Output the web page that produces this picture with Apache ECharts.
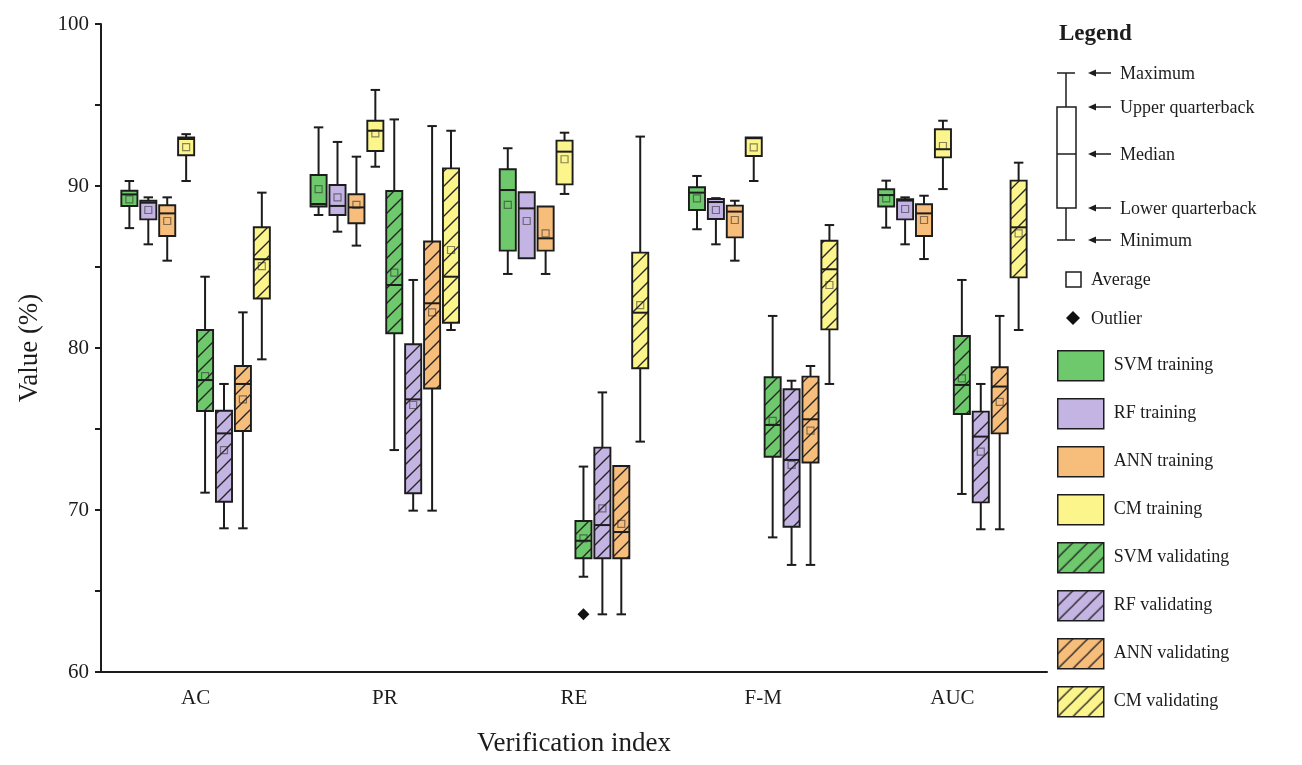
<!DOCTYPE html>
<html><head><meta charset="utf-8">
<script src="https://cdn.jsdelivr.net/npm/echarts@6/dist/echarts.min.js"></script>
<style>html,body{margin:0;padding:0;background:#fff}#c{width:1302px;height:765px}</style>
</head><body><div id="c"></div>
<script>
// ---- data (each row: [min, q1, median, q3, max, mean]) ----
const categories = ['AC', 'PR', 'RE', 'F-M', 'AUC'];
const seriesNames = ['SVM training','RF training','ANN training','CM training','SVM validating','RF validating','ANN validating','CM validating'];
const svmTraining = [[87.40,88.77,89.48,89.71,90.31,89.18],[88.21,88.73,88.89,90.68,93.62,89.81],[84.57,86.01,89.75,91.03,92.33,88.83],[87.33,88.52,89.59,89.92,90.62,89.24],[87.43,88.73,89.44,89.80,90.33,89.24]];
const rfTraining = [[86.40,87.94,88.97,89.09,89.30,88.52],[87.18,88.21,88.77,90.06,92.72,89.30],[85.54,85.54,88.62,89.61,89.61,87.84],[86.40,87.96,89.01,89.20,89.25,88.52],[86.40,87.94,89.10,89.18,89.30,88.58]];
const annTraining = [[85.39,86.91,88.31,88.81,89.30,87.84],[86.32,87.70,88.68,89.49,91.81,88.83],[84.57,86.01,86.77,88.73,88.73,87.08],[85.39,86.83,88.42,88.79,89.09,87.90],[85.49,86.91,88.31,88.87,89.40,87.90]];
const cmTraining = [[90.31,91.90,92.90,93.00,93.20,92.40],[91.19,92.16,93.41,94.03,95.93,93.25],[89.51,90.10,92.12,92.80,93.29,91.65],[90.31,91.85,92.95,93.00,93.00,92.39],[89.81,91.77,92.27,93.50,94.03,92.47]];
const svmValidating = [[71.07,76.11,78.02,81.11,84.40,78.27],[73.70,80.91,83.89,89.69,94.11,84.65],[65.88,67.02,68.10,69.32,72.68,68.25],[68.31,73.29,75.25,78.19,81.98,75.50],[70.99,75.93,77.72,80.74,84.20,78.13]];
const rfValidating = [[68.87,70.51,74.73,76.13,77.78,73.70],[69.96,71.03,76.83,80.23,84.20,76.48],[63.56,67.02,69.07,73.85,77.26,70.10],[66.61,68.97,73.09,77.45,77.98,72.78],[68.81,70.47,74.53,76.07,77.78,73.60]];
const annValidating = [[68.87,74.88,77.78,78.89,82.20,76.83],[69.96,77.50,82.76,86.57,93.70,82.20],[63.56,67.02,68.64,72.72,72.72,69.14],[66.61,72.93,75.60,78.23,78.89,74.90],[68.81,74.73,77.62,78.81,81.98,76.68]];
const cmValidating = [[79.30,83.06,85.48,87.45,89.59,85.06],[81.11,81.56,84.40,91.09,93.41,86.05],[74.22,78.75,82.18,85.89,93.05,82.65],[77.78,81.15,84.86,86.62,87.59,83.89],[81.11,84.36,87.45,90.33,91.44,87.08]];
// outliers: [categoryIndex, value]
const svmValidatingOutliers = [[2, 63.56]];
const yTicks = [60, 70, 80, 90, 100];

const allData = [svmTraining, rfTraining, annTraining, cmTraining, svmValidating, rfValidating, annValidating, cmValidating];
const allOutliers = [[], [], [], [], svmValidatingOutliers, [], [], []];
const baseColors = ['#6dc96b', '#c4b4e4', '#f7bd7b', '#fbf58c'];
const FONT = '"Liberation Serif", "Times New Roman", serif';
const INK = '#1c1c1c';

function hatch(color) {
  const s = 15;
  const c = document.createElement('canvas');
  c.width = s; c.height = s;
  const ctx = c.getContext('2d');
  ctx.fillStyle = color; ctx.fillRect(0, 0, s, s);
  ctx.strokeStyle = '#262626'; ctx.lineWidth = 1.4;
  ctx.beginPath();
  ctx.moveTo(-2, s + 2); ctx.lineTo(s + 2, -2);
  ctx.moveTo(-2, 2); ctx.lineTo(2, -2);
  ctx.moveTo(s - 2, s + 2); ctx.lineTo(s + 2, s - 2);
  ctx.stroke();
  return { image: c, repeat: 'repeat' };
}
const fills = seriesNames.map((n, i) => i < 4 ? baseColors[i] : hatch(baseColors[i - 4]));

function makeRender(si) {
  return function (params, api) {
    const ci = api.value(0);
    const bw = api.size([1, 0])[0];
    const cx = api.coord([ci, 80])[0] + (si - 3.5) * bw * 0.1;
    const bwid = bw * 0.085, cap = bw * 0.05;
    const y = k => api.coord([ci, api.value(k)])[1];
    const yMin = y(1), yQ1 = y(2), yMed = y(3), yQ3 = y(4), yMax = y(5), yMean = y(6);
    const ls = { stroke: INK, lineWidth: 2 };
    const ch = [];
    ch.push({ type: 'line', shape: { x1: cx, y1: yMax, x2: cx, y2: yQ3 }, style: ls });
    ch.push({ type: 'line', shape: { x1: cx, y1: yQ1, x2: cx, y2: yMin }, style: ls });
    if (Math.abs(yMax - yQ3) > 0.5) ch.push({ type: 'line', shape: { x1: cx - cap / 2, y1: yMax, x2: cx + cap / 2, y2: yMax }, style: ls });
    if (Math.abs(yMin - yQ1) > 0.5) ch.push({ type: 'line', shape: { x1: cx - cap / 2, y1: yMin, x2: cx + cap / 2, y2: yMin }, style: ls });
    ch.push({ type: 'rect', shape: { x: cx - bwid / 2, y: yQ3, width: bwid, height: yQ1 - yQ3 }, style: { fill: fills[si], stroke: INK, lineWidth: 1.9 } });
    ch.push({ type: 'line', shape: { x1: cx - bwid / 2, y1: yMed, x2: cx + bwid / 2, y2: yMed }, style: ls });
    ch.push({ type: 'rect', shape: { x: cx - 3.5, y: yMean - 3.5, width: 7, height: 7 }, style: { fill: 'none', stroke: 'rgba(40,40,40,0.55)', lineWidth: 1.2 } });
    return { type: 'group', children: ch };
  };
}
function makeOutlierRender(si) {
  return function (params, api) {
    const ci = api.value(0);
    const bw = api.size([1, 0])[0];
    const p = api.coord([ci, api.value(1)]);
    const cx = p[0] + (si - 3.5) * bw * 0.1, cy = p[1];
    const r = 6;
    return { type: 'polygon', shape: { points: [[cx, cy - r], [cx + r, cy], [cx, cy + r], [cx - r, cy]] }, style: { fill: '#111' } };
  };
}

const series = [];
allData.forEach((rows, si) => {
  series.push({
    name: seriesNames[si], type: 'custom', renderItem: makeRender(si),
    encode: { x: 0, y: [1, 2, 3, 4, 5] },
    itemStyle: { color: fills[si], borderColor: INK, borderWidth: 1.5 },
    data: rows.map((r, i) => [i].concat(r)), z: 2
  });
  if (allOutliers[si].length) {
    series.push({
      name: seriesNames[si], type: 'custom', renderItem: makeOutlierRender(si),
      encode: { x: 0, y: 1 }, itemStyle: { color: fills[si] },
      data: allOutliers[si], z: 3
    });
  }
});

// Explanatory legend (schematic) graphics
const gx = 1066, arrowX1 = 1088, arrowX2 = 1111, tx = 1120;
const keyY = { max: 73, q3: 107, med: 154, q1: 208, min: 240 };
const keyLabels = [['Maximum', keyY.max], ['Upper quarterback', keyY.q3], ['Median', keyY.med], ['Lower quarterback', keyY.q1], ['Minimum', keyY.min]];
const graphics = [
  { type: 'text', left: 1059, top: 23, style: { text: 'Legend', font: 'bold 23px ' + FONT, fill: INK } },
  { type: 'line', shape: { x1: gx, y1: keyY.max, x2: gx, y2: keyY.q3 }, style: { stroke: INK, lineWidth: 1.5 } },
  { type: 'line', shape: { x1: gx, y1: keyY.q1, x2: gx, y2: keyY.min }, style: { stroke: INK, lineWidth: 1.5 } },
  { type: 'line', shape: { x1: 1057, y1: keyY.max, x2: 1075, y2: keyY.max }, style: { stroke: INK, lineWidth: 1.5 } },
  { type: 'line', shape: { x1: 1057, y1: keyY.min, x2: 1075, y2: keyY.min }, style: { stroke: INK, lineWidth: 1.5 } },
  { type: 'rect', shape: { x: 1057, y: keyY.q3, width: 19, height: keyY.q1 - keyY.q3 }, style: { fill: '#fff', stroke: INK, lineWidth: 1.5 } },
  { type: 'line', shape: { x1: 1057, y1: keyY.med, x2: 1076, y2: keyY.med }, style: { stroke: INK, lineWidth: 1.5 } },
  { type: 'rect', shape: { x: 1066, y: 272, width: 15, height: 15 }, style: { fill: 'none', stroke: INK, lineWidth: 1.5 } },
  { type: 'text', x: 1091, y: 280, style: { text: 'Average', font: '18px ' + FONT, fill: INK, verticalAlign: 'middle' } },
  { type: 'polygon', shape: { points: [[1073, 311], [1080, 318], [1073, 325], [1066, 318]] }, style: { fill: '#111' } },
  { type: 'text', x: 1091, y: 319, style: { text: 'Outlier', font: '18px ' + FONT, fill: INK, verticalAlign: 'middle' } }
];
keyLabels.forEach(([t, yy]) => {
  graphics.push({ type: 'line', shape: { x1: arrowX1 + 4, y1: yy, x2: arrowX2, y2: yy }, style: { stroke: INK, lineWidth: 1.5 } });
  graphics.push({ type: 'polygon', shape: { points: [[arrowX1, yy], [arrowX1 + 8, yy - 3.5], [arrowX1 + 8, yy + 3.5]] }, style: { fill: INK } });
  graphics.push({ type: 'text', x: tx, y: yy + 1, style: { text: t, font: '18px ' + FONT, fill: INK, verticalAlign: 'middle' } });
});

const chart = echarts.init(document.getElementById('c'), null, { renderer: 'canvas' });
chart.setOption({
  animation: false,
  backgroundColor: '#fff',
  grid: { left: 101, top: 24, right: 255, bottom: 93, containLabel: false },
  xAxis: {
    type: 'category', data: categories, boundaryGap: true,
    name: 'Verification index', nameLocation: 'middle', nameGap: 58,
    nameTextStyle: { fontFamily: FONT, fontSize: 27, color: INK },
    axisLine: { lineStyle: { color: INK, width: 2 } },
    axisTick: { alignWithLabel: true, length: 8, lineStyle: { color: INK, width: 2 } },
    axisLabel: { fontFamily: FONT, fontSize: 21, color: INK, margin: 16 },
    splitLine: { show: false }
  },
  yAxis: {
    type: 'value', min: 60, max: 100, interval: 5,
    name: 'Value (%)', nameLocation: 'middle', nameGap: 58,
    nameTextStyle: { fontFamily: FONT, fontSize: 27, color: INK },
    axisLine: { show: true, lineStyle: { color: INK, width: 2 } },
    axisTick: { show: true, length: 6, lineStyle: { color: INK, width: 2 } },
    axisLabel: { fontFamily: FONT, fontSize: 21, color: INK, margin: 12,
      formatter: v => yTicks.indexOf(v) >= 0 ? String(v) : '' },
    splitLine: { show: false }
  },
  legend: {
    orient: 'vertical', left: 1057, top: 350, padding: 0, icon: 'rect',
    itemWidth: 46, itemHeight: 30, itemGap: 16.5, selectedMode: false,
    data: seriesNames,
    itemStyle: { borderColor: INK, borderWidth: 1.5 },
    textStyle: { fontFamily: FONT, fontSize: 18, color: INK, padding: [0, 0, 0, 5] }
  },
  graphic: graphics,
  series: series
});
</script>
</body></html>
